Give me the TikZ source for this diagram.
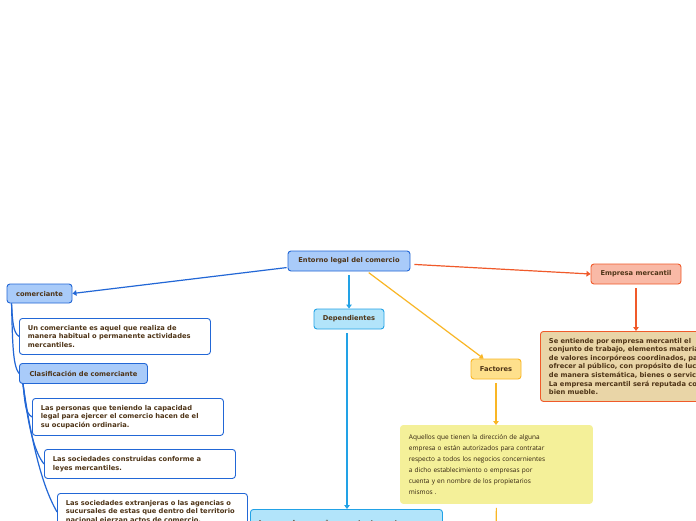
\documentclass[tikz,border=0pt]{standalone}
\usepackage{fontspec}
\usetikzlibrary{arrows.meta,calc}
\newfontfamily\dvb{DejaVu Sans}[BoldFont={DejaVu Sans Bold}]
\newfontfamily\osf{Open Sans}
\definecolor{txt}{HTML}{4E3417}
\definecolor{bfill}{HTML}{A9CBF9}
\definecolor{bline}{HTML}{2267D6}
\definecolor{cfill}{HTML}{B2E4FA}
\definecolor{cline}{HTML}{22A2E6}
\definecolor{yfill}{HTML}{FEE08C}
\definecolor{yline}{HTML}{F9B625}
\definecolor{ydesc}{HTML}{F4F099}
\definecolor{rfill}{HTML}{F9B9A6}
\definecolor{rline}{HTML}{F05A2A}
\definecolor{tfill}{HTML}{E9D5A7}
\tikzset{
  bx/.style={rounded corners=3pt, line width=0.9pt, inner sep=0pt, align=left, text=txt,
    font=\dvb\bfseries\fontsize{6.7}{8.6}\selectfont},
  topic/.style={bx, minimum height=20pt},
  descbox/.style={bx, anchor=north west, inner xsep=8.5pt},
  conn/.style={line width=1.2pt, -{Triangle[width=5.5pt,length=4pt]}},
  tree/.style={line width=1.2pt, bline},
}
\begin{document}
\begin{tikzpicture}[x=1pt,y=-1pt]
\clip (0,0) rectangle (696,520);
\fill[white] (0,0) rectangle (696,520);
% nodes
\node[topic, draw=bline, fill=bfill, minimum width=122pt, align=center] (entorno) at (349,261) {Entorno legal del comercio};
\node[topic, draw=bline, fill=bfill, minimum width=65pt, minimum height=19pt, align=center] (comerciante) at (39.5,293.5) {comerciante};
\node[descbox, draw=bline, fill=white, text width=174pt, minimum height=36pt] (uncom) at (19,318) {Un comerciante es aquel que realiza de\\manera habitual o permanente actividades\\mercantiles.};
\node[topic, draw=bline, fill=bfill, minimum width=128pt, anchor=north west, align=center] (clasif) at (19,363) {Clasificación de comerciante};
\node[descbox, draw=bline, fill=white, text width=174pt, minimum height=37pt] (personas) at (32,398) {Las personas que teniendo la capacidad\\legal para ejercer el comercio hacen de el\\su ocupación ordinaria.};
\node[descbox, draw=bline, fill=white, text width=174pt, minimum height=29pt] (construidas) at (44,449) {Las sociedades construidas conforme a\\leyes mercantiles.};
\node[descbox, draw=bline, fill=white, text width=173pt, minimum height=37pt] (extranjeras) at (57,493) {Las sociedades extranjeras o las agencias o\\sucursales de estas que dentro del territorio\\nacional ejerzan actos de comercio.};
\node[topic, draw=cline, fill=cfill, minimum width=70pt, align=center] (dependientes) at (349,319) {Dependientes};
\node[descbox, draw=cline, fill=cfill, text width=175pt, minimum height=40pt, anchor=north west] (losque) at (250,509) {\rule{0pt}{9pt}Los que desempeñan constantemente\\\phantom{x}\\\phantom{x}};
\node[topic, draw=yline, fill=yfill, minimum width=50pt, align=center] (factores) at (496,369) {Factores};
\node[descbox, draw=ydesc, fill=ydesc, text width=175pt, minimum height=78pt,
  font=\osf\fontsize{6.5}{11}\selectfont, text=txt!60!black] (ydesc) at (400,425) {Aquellos que tienen la dirección de alguna\\empresa o están autorizados para contratar\\respecto a todos los negocios concernientes\\a dicho establecimiento o empresas por\\cuenta y en nombre de los propietarios\\mismos .};
\node[topic, draw=rline, fill=rfill, minimum width=90pt, align=center] (empresa) at (636,274) {Empresa mercantil};
\node[descbox, draw=rline, fill=tfill, text width=200pt, minimum height=70pt] (empdesc) at (540,331) {Se entiende por empresa mercantil el\\conjunto de trabajo, elementos materiales y\\de valores incorpóreos coordinados, para\\ofrecer al público, con propósito de lucro y\\de manera sistemática, bienes o servicios.\\La empresa mercantil será reputada como un\\bien mueble.};
\coordinate (below) at (496,535);
% connectors
\draw[conn, bline, shorten <=1pt] (entorno.186) -- (comerciante.east);
\draw[conn, cline, shorten <=4pt] (entorno.south) -- (dependientes.north);
\draw[conn, cline, shorten <=4pt] ([xshift=-2pt]dependientes.south) -- ([xshift=-2pt]dependientes.south |- losque.north);
\draw[conn, yline, shorten <=2pt] (entorno.-30) -- (factores.140);
\draw[conn, rline, shorten <=4pt] (entorno.-3) -- (empresa.west);
\draw[conn, rline, shorten <=4pt] (empresa.south) -- (empresa.south |- empdesc.north);
\draw[conn, yline, shorten <=4pt] (factores.south) -- (factores.south |- ydesc.north);
\draw[line width=1.2pt, yline, shorten <=4pt] (ydesc.south) -- (below);
% tree
\coordinate (c0) at ($(comerciante.south west)+(5,0)$);
\draw[tree] (c0) .. controls ($(c0)+(1,18)$) and ($(uncom.west)+(-6,-4)$) .. (uncom.west);
\draw[tree] (c0) .. controls ($(c0)+(1,42)$) and ($(clasif.west)+(-6,-8)$) .. (clasif.west);
\coordinate (c1) at ($(clasif.south west)+(4,0)$);
\draw[tree] (c1) .. controls ($(c1)+(2,18)$) and ($(personas.west)+(-7,-4)$) .. (personas.west);
\draw[tree] (c1) .. controls ($(c1)+(6,50)$) and ($(construidas.west)+(-8,-10)$) .. (construidas.west);
\draw[tree] (c1) .. controls ($(c1)+(12,84)$) and ($(extranjeras.west)+(-8,-14)$) .. (extranjeras.west);
\end{tikzpicture}
\end{document}
